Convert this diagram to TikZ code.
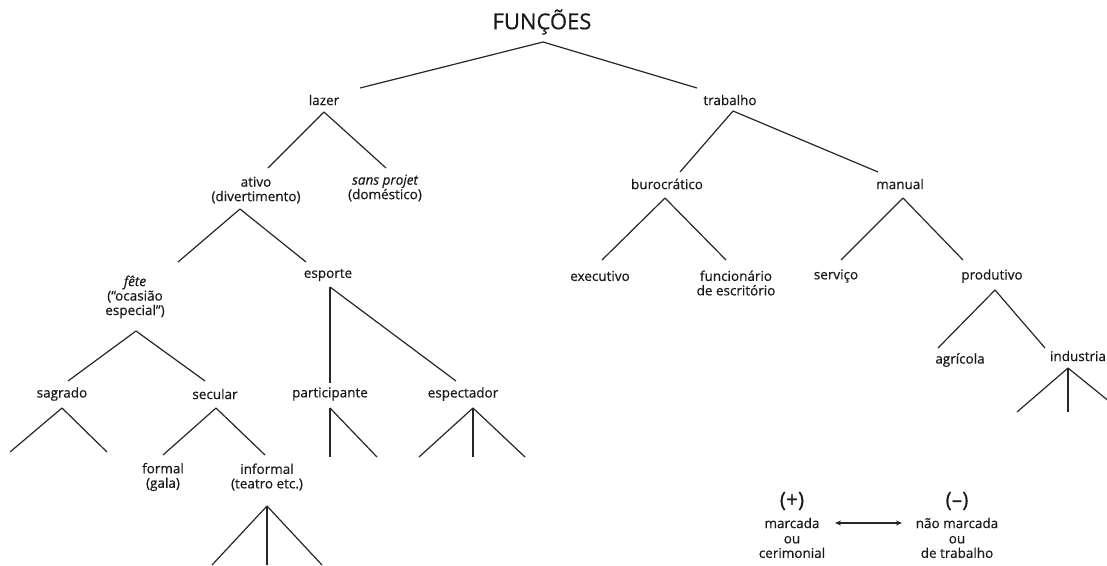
\documentclass[tikz,border=0pt]{standalone}
\usepackage{fontspec}
\setmainfont{Open Sans}[FakeBold=0.5]
\usetikzlibrary{arrows.meta}
\newcommand\lnk[6]{\draw[br] ([shift={(#2,#3)}]#1.center) -- ([shift={(#5,#6)}]#4.center);}
\newcommand\lf[4]{\draw[br] ([shift={(#2,#3)}]#1.center) -- (#4);}
\begin{document}
\begin{tikzpicture}[x=1pt,y=-1pt,
  lbl/.style={inner sep=0pt, align=center, text=black!90, font=\fontsize{13.5}{14.5}\selectfont},
  ttl/.style={inner sep=0pt, text=black!90, font=\fontsize{22}{24}\selectfont},
  sgn/.style={inner sep=0pt, text=black!90, font=\fontsize{21}{23}\selectfont},
  br/.style={draw=black!85, line width=1.2pt}]
\useasboundingbox (0,0) rectangle (1107,565);
% nodes
\node[ttl] (fun) at (542,22) {FUNÇÕES};
\node[lbl] (lazer) at (324,100) {lazer};
\node[lbl] (trab) at (730,100) {trabalho};
\node[lbl] (ativo) at (256,190) {ativo\\(divertimento)};
\node[lbl] (sansp) at (385,188) {\itshape sans projet\\(doméstico)};
\node[lbl] (fete) at (135,297) {\itshape fête\\(“ocasião\\especial”)};
\node[lbl] (esporte) at (328,275) {esporte};
\node[lbl] (sagrado) at (62,394) {sagrado};
\node[lbl] (secular) at (215,394) {secular};
\node[lbl] (partic) at (330,394) {participante};
\node[lbl] (espect) at (463,394) {espectador};
\node[lbl] (formal) at (163,477) {formal\\(gala)};
\node[lbl] (informal) at (267,477) {informal\\(teatro etc.)};
\node[lbl] (buro) at (667,184) {burocrático};
\node[lbl] (manual) at (900,184) {manual};
\node[lbl] (exec) at (600,276) {executivo};
\node[lbl] (func) at (736,283) {funcionário\\de escritório};
\node[lbl] (serv) at (836,276) {serviço};
\node[lbl] (prod) at (992,276) {produtivo};
\node[lbl] (agri) at (960,360) {agrícola};
\node[lbl] (indu) at (1078,356) {industria};
% legend
\node[sgn] (plus) at (792,501) {(+)};
\node[sgn] (minus) at (957,501) {(–)};
\node[lbl] (m1) at (792,523) {marcada};
\node[lbl] (m2) at (792,547) {ou\\cerimonial};
\node[lbl] (n1) at (957,523) {não marcada};
\node[lbl] (n2) at (957,547) {ou\\de trabalho};
\draw[draw=black!85, line width=1.1pt, {Stealth[length=6pt,width=5pt]}-{Stealth[length=6pt,width=5pt]}]
  ([shift={(43,0)}]m1.center) -- ([shift={(-55,0)}]n1.center);
% leaf end points
\coordinate (sag1) at (10,452);
\coordinate (sag2) at (107,452);
\coordinate (par1) at (330,457);
\coordinate (par2) at (377,457);
\coordinate (esp1) at (419,457);
\coordinate (esp2) at (473,457);
\coordinate (esp3) at (525,457);
\coordinate (inf1) at (212,565);
\coordinate (inf2) at (267,565);
\coordinate (inf3) at (322,565);
\coordinate (ind1) at (1017,412);
\coordinate (ind2) at (1068,412);
\coordinate (ind3) at (1110,402);
% connectors
\lnk{fun}{1}{20}{lazer}{36}{-12}
\lnk{fun}{1}{20}{trab}{-33}{-12}
\lnk{lazer}{0}{12}{ativo}{12}{-22}
\lnk{lazer}{0}{12}{sansp}{1}{-20}
\lnk{ativo}{-16}{19}{fete}{43}{-35}
\lnk{ativo}{-16}{19}{esporte}{-22}{-13}
\lnk{esporte}{2}{12}{partic}{0}{-11}
\lnk{esporte}{2}{12}{espect}{-7}{-13}
\lnk{fete}{1}{34}{sagrado}{6}{-13}
\lnk{fete}{1}{34}{secular}{-10}{-13}
\lf{sagrado}{0}{14}{sag1}
\lf{sagrado}{0}{14}{sag2}
\lnk{secular}{1}{14}{formal}{0}{-22}
\lnk{secular}{1}{14}{informal}{-2}{-22}
\lf{partic}{0}{14}{par1}
\lf{partic}{0}{14}{par2}
\lf{espect}{10}{14}{esp1}
\lf{espect}{10}{14}{esp2}
\lf{espect}{10}{14}{esp3}
\lf{informal}{0}{29}{inf1}
\lf{informal}{0}{29}{inf2}
\lf{informal}{0}{29}{inf3}
\lnk{trab}{3}{11}{buro}{13}{-12}
\lnk{trab}{3}{11}{manual}{-22}{-12}
\lnk{buro}{-2}{14}{exec}{2}{-16}
\lnk{buro}{-2}{14}{func}{-10}{-23}
\lnk{manual}{3}{14}{serv}{5}{-16}
\lnk{manual}{3}{14}{prod}{-29}{-16}
\lnk{prod}{3}{14}{agri}{-22}{-12}
\lnk{prod}{3}{14}{indu}{-33}{-8}
\lf{indu}{-10}{12}{ind1}
\lf{indu}{-10}{12}{ind2}
\lf{indu}{-10}{12}{ind3}
\end{tikzpicture}
\end{document}
